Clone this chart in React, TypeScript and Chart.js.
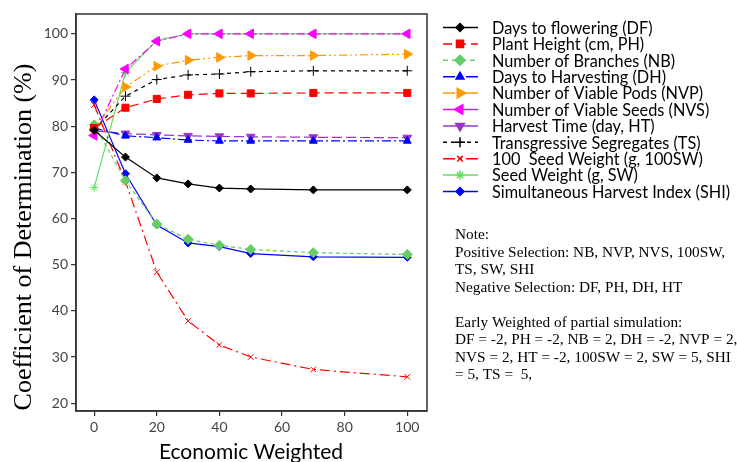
import React, { useEffect, useRef } from "react";
import { Chart, registerables } from "chart.js";
import { drawPoint } from "chart.js/helpers";

Chart.register(...registerables);

const xValues = [0, 10, 20, 30, 40, 50, 70, 100];
const dfValues = [79.1, 73.3, 68.8, 67.5, 66.6, 66.4, 66.2, 66.2];
const phValues = [79.6, 84.0, 85.9, 86.8, 87.1, 87.1, 87.2, 87.2];
const nbValues = [80.3, 68.2, 58.8, 55.5, 54.2, 53.3, 52.6, 52.2];
const dhValues = [79.6, 77.9, 77.5, 77.0, 76.8, 76.8, 76.8, 76.8];
const nvpValues = [79.4, 88.5, 93.0, 94.3, 94.9, 95.3, 95.3, 95.6];
const nvsValues = [78.0, 92.4, 98.4, 100, 100, 100, 100, 100];
const htValues = [79.0, 78.4, 78.1, 77.9, 77.8, 77.7, 77.6, 77.5];
const tsValues = [79.2, 86.5, 90.1, 91.1, 91.3, 91.8, 92.0, 92.0];
const sw100Values = [84.6, 68.0, 48.4, 37.8, 32.6, 30.0, 27.3, 25.7];
const swValues = [66.7, 91.6, 98.6, 100, 100, 100, 100, 100];
const shiValues = [85.7, 69.7, 58.6, 54.7, 53.9, 52.4, 51.7, 51.6];

const seriesLabels = [
  "Days to flowering (DF)",
  "Plant Height (cm, PH)",
  "Number of Branches (NB)",
  "Days to Harvesting (DH)",
  "Number of Viable Pods (NVP)",
  "Number of Viable Seeds (NVS)",
  "Harvest Time (day, HT)",
  "Transgressive Segregates (TS)",
  "100  Seed Weight (g, 100SW)",
  "Seed Weight (g, SW)",
  "Simultaneous Harvest Index (SHI)",
];

const yTicks = [20, 30, 40, 50, 60, 70, 80, 90, 100];
const xTicks = [0, 20, 40, 60, 80, 100];

const noteLines = [
  "Note:",
  "Positive Selection: NB, NVP, NVS, 100SW,",
  "TS, SW, SHI",
  "Negative Selection: DF, PH, DH, HT",
  "",
  "Early Weighted of partial simulation:",
  "DF = -2, PH = -2, NB = 2, DH = -2, NVP = 2,",
  "NVS = 2, HT = -2, 100SW = 2, SW = 5, SHI",
  "= 5, TS =  5,",
];

type Style = {
  color: string;
  dash: number[];
  point: string;
  rot: number;
  r: number;
  legendDash: number[];
};

const styles: Style[] = [
  { color: "#000000", dash: [], point: "rectRot", rot: 0, r: 4, legendDash: [] },
  { color: "#ff0000", dash: [9, 5], point: "rect", rot: 0, r: 5, legendDash: [9, 5] },
  { color: "#66cc66", dash: [4, 3], point: "rectRot", rot: 0, r: 5, legendDash: [5, 4] },
  { color: "#0000ff", dash: [9, 3, 2, 3], point: "triangle", rot: 0, r: 4.5, legendDash: [12, 4, 3, 4] },
  { color: "#ff9900", dash: [8, 3, 2, 3, 2, 3], point: "triangle", rot: 90, r: 5.5, legendDash: [12, 4, 3, 4] },
  { color: "#ff00ff", dash: [8, 3, 2, 3], point: "triangle", rot: -90, r: 5.5, legendDash: [] },
  { color: "#9933cc", dash: [10, 4], point: "triangle", rot: 180, r: 5, legendDash: [] },
  { color: "#000000", dash: [4, 4], point: "cross", rot: 0, r: 5, legendDash: [4, 4] },
  { color: "#ff0000", dash: [10, 4, 2, 4], point: "crossRot", rot: 0, r: 4, legendDash: [12, 4, 3, 4] },
  { color: "#66dd66", dash: [], point: "star", rot: 0, r: 4.5, legendDash: [] },
  { color: "#0000ff", dash: [], point: "rectRot", rot: 0, r: 4, legendDash: [] },
];

const seriesValues = [
  dfValues,
  phValues,
  nbValues,
  dhValues,
  nvpValues,
  nvsValues,
  htValues,
  tsValues,
  sw100Values,
  swValues,
  shiValues,
];

const AXIS_COLOR = "#333333";

const decorPlugin = {
  id: "decor",
  afterDraw(chart: any) {
    const ctx = chart.ctx as CanvasRenderingContext2D;
    const a = chart.chartArea;
    ctx.save();
    // box
    ctx.strokeStyle = AXIS_COLOR;
    ctx.lineWidth = 1.5;
    ctx.setLineDash([]);
    ctx.strokeRect(a.left, a.top, a.right - a.left, a.bottom - a.top);

    // y title
    ctx.fillStyle = "#000";
    ctx.font = "26px 'Liberation Serif'";
    ctx.textAlign = "center";
    ctx.textBaseline = "middle";
    ctx.save();
    ctx.translate(24, 237);
    ctx.rotate(-Math.PI / 2);
    ctx.fillText("Coefficient of Determination (%)", 0, 0);
    ctx.restore();

    // x title
    ctx.font = "21px Lato";
    ctx.fillText("Economic Weighted", 251, 452);

    // legend
    const rowY0 = 27.5;
    const rowStep = 16.4;
    ctx.textAlign = "left";
    ctx.font = "16.3px Lato";
    seriesLabels.forEach((label, i) => {
      const s = styles[i];
      const y = rowY0 + i * rowStep;
      ctx.strokeStyle = s.color;
      ctx.fillStyle = s.color;
      ctx.lineWidth = 1.5;
      ctx.setLineDash(s.legendDash);
      ctx.beginPath();
      ctx.moveTo(443, y);
      ctx.lineTo(478, y);
      ctx.stroke();
      ctx.setLineDash([]);
      drawPoint(
        ctx,
        { pointStyle: s.point as any, rotation: s.rot, radius: s.r, borderWidth: 1 } as any,
        460,
        y
      );
      ctx.fillStyle = "#000";
      ctx.fillText(label, 492, y + 1);
    });

    // notes
    ctx.font = "15.3px 'Liberation Serif'";
    noteLines.forEach((t, i) => {
      ctx.fillText(t, 455, 235 + i * 17.5);
    });
    ctx.restore();
  },
};

export default function App() {
  const ref = useRef<HTMLCanvasElement | null>(null);
  useEffect(() => {
    if (!ref.current) return;
    const datasets = seriesLabels.map((label, i) => {
      const s = styles[i];
      return {
        label,
        data: xValues.map((x, j) => ({ x, y: seriesValues[i][j] })),
        borderColor: s.color,
        backgroundColor: s.color,
        borderWidth: 1.2,
        borderDash: s.dash,
        pointStyle: s.point,
        pointRotation: s.rot,
        pointRadius: s.r,
        pointBorderWidth: 1,
        pointBorderColor: s.color,
        pointBackgroundColor: s.color,
        tension: 0,
        fill: false,
      };
    });
    const chart = new Chart(ref.current, {
      type: "line",
      data: { datasets: datasets as any },
      options: {
        responsive: false,
        animation: false,
        layout: { padding: { left: 0, right: 310, top: 14, bottom: 0 } },
        plugins: {
          legend: { display: false },
          tooltip: { enabled: false },
          title: { display: false },
        },
        scales: {
          x: {
            type: "linear",
            min: -5.8,
            max: 106.3,
            afterBuildTicks: (scale: any) => {
              scale.ticks = xTicks.map((v) => ({ value: v }));
            },
            afterFit: (scale: any) => {
              scale.height = 51;
            },
            grid: {
              drawOnChartArea: false,
              drawTicks: true,
              tickLength: 5,
              color: AXIS_COLOR,
              lineWidth: 1.2,
            },
            border: { display: true, color: AXIS_COLOR, width: 1.5 },
            ticks: {
              color: "#444",
              font: { family: "Lato", size: 14 },
              padding: 3,
            },
          },
          y: {
            type: "linear",
            min: 18.3,
            max: 104.3,
            afterBuildTicks: (scale: any) => {
              scale.ticks = yTicks.map((v) => ({ value: v }));
            },
            afterFit: (scale: any) => {
              scale.width = 76;
            },
            grid: {
              drawOnChartArea: false,
              drawTicks: true,
              tickLength: 5,
              color: AXIS_COLOR,
              lineWidth: 1.2,
            },
            border: { display: true, color: AXIS_COLOR, width: 1.5 },
            ticks: {
              color: "#444",
              font: { family: "Lato", size: 14 },
              padding: 3,
            },
          },
        },
      },
      plugins: [decorPlugin],
    });
    return () => chart.destroy();
  }, []);
  return (
    <div style={{ position: "fixed", left: 0, top: 0, width: 737, height: 462, background: "#fff" }}>
      <canvas ref={ref} width={737} height={462} style={{ width: 737, height: 462, display: "block" }} />
    </div>
  );
}
